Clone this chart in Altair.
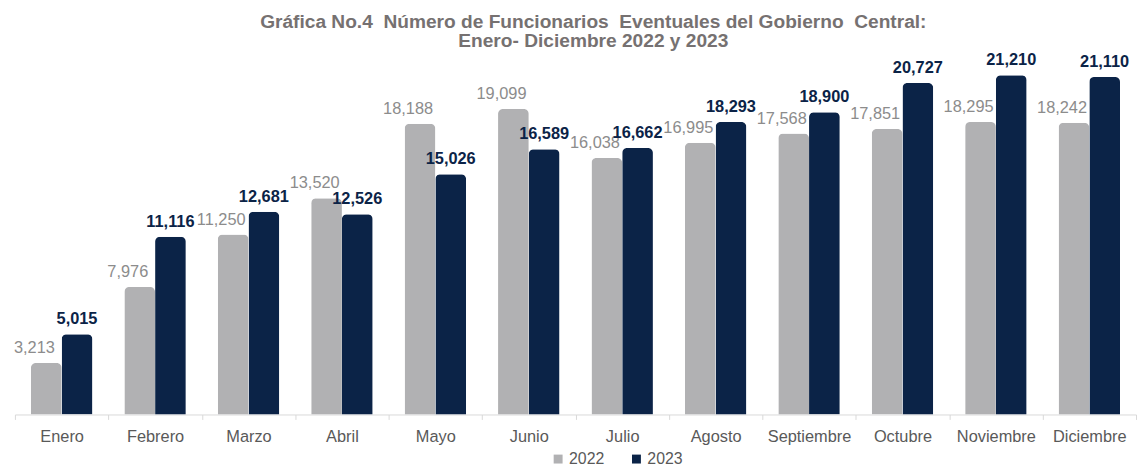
import altair as alt
import pandas as pd

months = ["Enero", "Febrero", "Marzo", "Abril", "Mayo", "Junio", "Julio",
          "Agosto", "Septiembre", "Octubre", "Noviembre", "Diciembre"]
v2022 = [3213, 7976, 11250, 13520, 18188, 19099, 16038, 16995, 17568, 17851, 18295, 18242]
v2023 = [5015, 11116, 12681, 12526, 15026, 16589, 16662, 18293, 18900, 20727, 21210, 21110]
years = ["2022", "2023"]
colors = ["#b1b1b3", "#0b2347"]

rows = []
for m, a, b in zip(months, v2022, v2023):
    rows.append({"mes": m, "anio": "2022", "valor": a})
    rows.append({"mes": m, "anio": "2023", "valor": b})
df = pd.DataFrame(rows)

FONT = "Liberation Sans"
NB = "\u00a0"

x = alt.X("mes:N", sort=months, title=None,
          scale=alt.Scale(paddingInner=0, paddingOuter=0),
          axis=alt.Axis(labelAngle=0, labelFontSize=16.5, labelColor="#595959",
                        labelFont=FONT, domainColor="#d9d9d9", tickColor="#d9d9d9",
                        tickSize=5, tickBand="extent", labelPadding=9, grid=False))
xo = alt.XOffset("anio:N", scale=alt.Scale(domain=years, paddingInner=0, paddingOuter=0.52))
y = alt.Y("valor:Q", scale=alt.Scale(domain=[0, 23250]), axis=None)

base = alt.Chart(df)

bars = base.mark_bar(cornerRadiusTopLeft=5, cornerRadiusTopRight=5).encode(
    x=x, xOffset=xo, y=y,
    color=alt.Color("anio:N", scale=alt.Scale(domain=years, range=colors),
                    legend=alt.Legend(title=None, orient="none", direction="horizontal",
                                      legendX=540, legendY=412, symbolType="square",
                                      symbolSize=81, labelFontSize=16, labelColor="#595959",
                                      labelFont=FONT, labelOffset=3, columnPadding=24,
                                      padding=0, symbolStrokeWidth=0)),
)

t22 = base.transform_filter(alt.datum.anio == "2022").mark_text(
    dy=-10, dx=-12, baseline="alphabetic", fontSize=16.5, font=FONT, color="#8c8c8c"
).encode(x=x, xOffset=xo, y=y, text=alt.Text("valor:Q", format=","))

t23 = base.transform_filter(alt.datum.anio == "2023").mark_text(
    dy=-10, baseline="alphabetic", fontSize=16.5, font=FONT, fontWeight="bold", color="#0b2347"
).encode(x=x, xOffset=xo, y=y, text=alt.Text("valor:Q", format=","))

chart = alt.layer(bars, t22, t23).properties(
    width=1131, height=375,
    padding={"left": 5, "right": 0, "top": 2, "bottom": 4},
    title=alt.TitleParams(
        text=[f"Gráfica No.4 {NB}Número de Funcionarios {NB}Eventuales del Gobierno {NB}Central:",
              "Enero- Diciembre 2022 y 2023"],
        fontSize=19.3, fontWeight="bold", color="#767171", font=FONT,
        anchor="middle", frame="group", dx=18, offset=-9, lineHeight=20),
).configure_view(stroke=None)

chart.save("out.html", embed_options={"renderer": "svg", "actions": False})
